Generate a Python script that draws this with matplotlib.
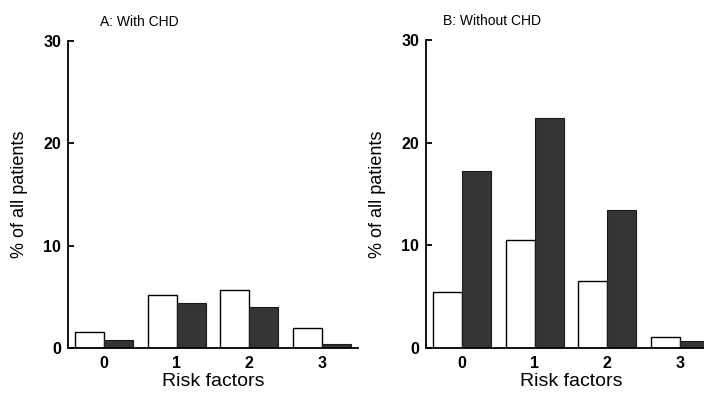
import matplotlib.pyplot as plt
import numpy as np

# risk factor counts on the x axis
risk_factors = [0, 1, 2, 3]
tick_labels = ['0', '1', '2', '3']

# % of all patients
with_chd_open = [1.6, 5.2, 5.7, 2.0]
with_chd_filled = [0.8, 4.4, 4.0, 0.4]
without_chd_open = [5.5, 10.5, 6.5, 1.1]
without_chd_filled = [17.2, 22.4, 13.4, 0.7]

plt.rcParams['font.family'] = ['Liberation Sans', 'DejaVu Sans']

fig = plt.figure(figsize=(7.04, 3.96), dpi=100)
fig.patch.set_facecolor('white')

ax_a = fig.add_axes([0.0966, 0.121, 0.412, 0.775])
ax_b = fig.add_axes([0.605, 0.121, 0.412, 0.778])

panels = [
    (ax_a, with_chd_open, with_chd_filled, 'A: With CHD', 0.11),
    (ax_b, without_chd_open, without_chd_filled, 'B: Without CHD', 0.06),
]

x = np.array(risk_factors)
w = 0.4
for ax, open_vals, filled_vals, title, tx in panels:
    ax.bar(x - w / 2, open_vals, width=w, color='white', edgecolor='black', linewidth=1.0)
    ax.bar(x + w / 2, filled_vals, width=w, color='#353535', edgecolor='#1a1a1a', linewidth=0.8)

    ax.set_xlim(-0.5, 3.5)
    ax.set_ylim(0, 30)
    ax.set_yticks([0, 10, 20, 30])
    ax.set_xticks(x)
    ax.set_xticklabels(tick_labels)

    for side in ['top', 'right']:
        ax.spines[side].set_visible(False)
    for side in ['left', 'bottom']:
        ax.spines[side].set_linewidth(1.3)

    ax.tick_params(axis='y', direction='in', length=4, width=1.3, pad=5, labelsize=11.5)
    ax.tick_params(axis='x', length=0, pad=6, labelsize=11.5)
    for lbl in ax.get_xticklabels() + ax.get_yticklabels():
        lbl.set_fontweight('bold')

    ax.set_xlabel('Risk factors', fontsize=14, labelpad=1)
    ax.set_ylabel('% of all patients', fontsize=13, labelpad=11)
    ax.text(tx, 1.04, title, transform=ax.transAxes, fontsize=10, ha='left', va='bottom')

fig.savefig('out.png', dpi=100)
